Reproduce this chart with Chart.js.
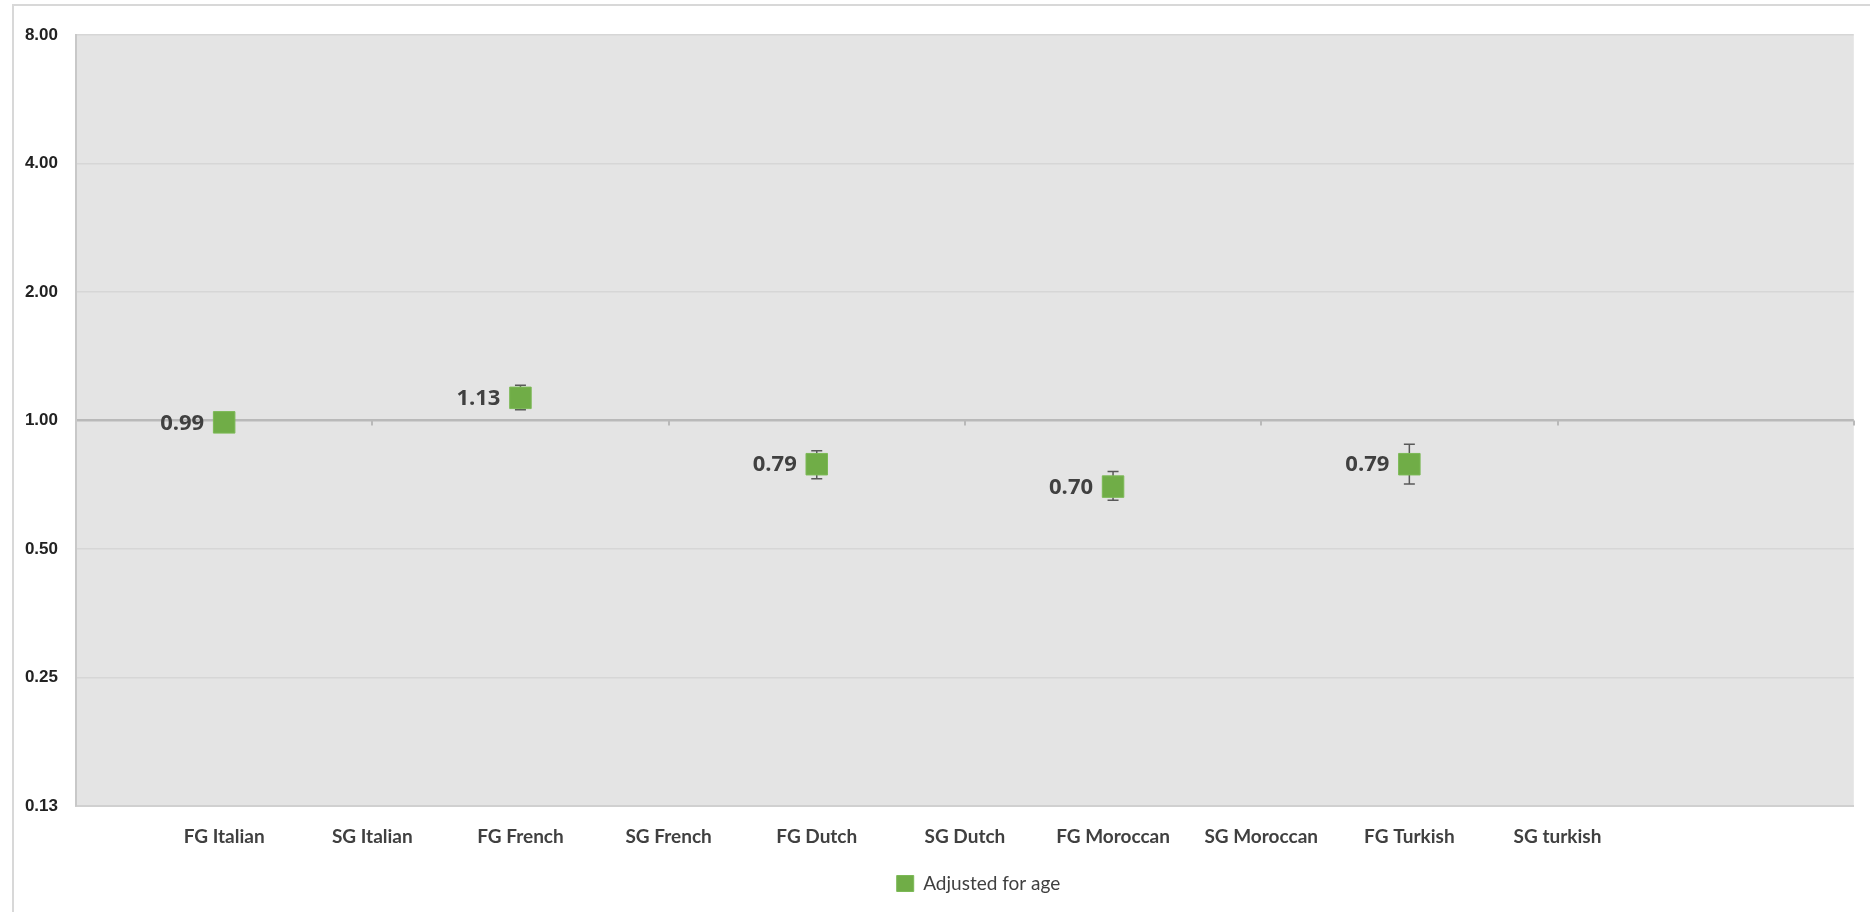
<!DOCTYPE html>
<html>
<head>
<meta charset="utf-8">
<script src="https://cdn.jsdelivr.net/npm/chart.js@4/dist/chart.umd.min.js"></script>
<style>
  html, body { margin: 0; padding: 0; background: #fff; }
  #wrap { width: 1870px; height: 912px; position: relative; }
</style>
</head>
<body>
<div id="wrap"><canvas id="or"></canvas></div>
<script>
// categories along the x axis
const categories = ['FG Italian', 'SG Italian', 'FG French', 'SG French', 'FG Dutch',
                    'SG Dutch', 'FG Moroccan', 'SG Moroccan', 'FG Turkish', 'SG turkish'];
// odds ratios (adjusted for age) with confidence limits, null = no estimate
const oddsRatio = [0.99, null, 1.13, null, 0.79, null, 0.70, null, 0.79, null];
const ciLower   = [0.97, null, 1.06, null, 0.73, null, 0.65, null, 0.71, null];
const ciUpper   = [1.01, null, 1.21, null, 0.85, null, 0.76, null, 0.88, null];
// log2 y axis
const yTicks = [0.125, 0.25, 0.5, 1, 2, 4, 8];
const yTickLabels = ['0.13', '0.25', '0.50', '1.00', '2.00', '4.00', '8.00'];

const points = [];
categories.forEach(function (c, i) {
	if (oddsRatio[i] !== null) {
		points.push({x: i + 1, y: oddsRatio[i], lo: ciLower[i], hi: ciUpper[i]});
	}
});

const frame = {
	id: 'frame',
	beforeDraw(chart) {
		const ctx = chart.ctx, a = chart.chartArea;
		ctx.save();
		ctx.strokeStyle = '#d8d8d8';
		ctx.lineWidth = 2;
		ctx.beginPath();
		ctx.moveTo(13, chart.height);
		ctx.lineTo(13, 5);
		ctx.lineTo(chart.width, 5);
		ctx.stroke();
		ctx.fillStyle = '#e4e4e4';
		ctx.fillRect(a.left, a.top, a.right - a.left, a.bottom - a.top);
		ctx.restore();
	},
	afterLayout(chart) {
		// legend sits a bit right of centre in the original
		chart.legend.left += 48;
		chart.legend.right += 48;
	}
};

// axis crossing at 1.00 with small tick marks, error bars behind the markers
const errorBars = {
	id: 'errorBars',
	beforeDatasetsDraw(chart) {
		const ctx = chart.ctx, xs = chart.scales.x, ys = chart.scales.y;
		const y1 = ys.getPixelForValue(1);
		ctx.save();
		ctx.strokeStyle = '#b9b9b9';
		ctx.lineWidth = 2;
		for (let v = 2; v <= xs.max; v += 2) {
			const px = Math.round(xs.getPixelForValue(v));
			ctx.beginPath();
			ctx.moveTo(px, y1);
			ctx.lineTo(px, y1 + 5);
			ctx.stroke();
		}
		ctx.strokeStyle = '#595959';
		ctx.lineWidth = 1.5;
		points.forEach(function (p) {
			const px = xs.getPixelForValue(p.x);
			const top = ys.getPixelForValue(p.hi);
			const bot = ys.getPixelForValue(p.lo);
			ctx.beginPath();
			ctx.moveTo(px, top); ctx.lineTo(px, bot);
			ctx.moveTo(px - 5.5, top); ctx.lineTo(px + 5.5, top);
			ctx.moveTo(px - 5.5, bot); ctx.lineTo(px + 5.5, bot);
			ctx.stroke();
		});
		ctx.restore();
	},
	afterDatasetsDraw(chart) {
		const ctx = chart.ctx;
		const meta = chart.getDatasetMeta(0);
		ctx.save();
		ctx.font = 'bold 22px "Open Sans"';
		ctx.fillStyle = '#404040';
		ctx.textAlign = 'right';
		ctx.textBaseline = 'middle';
		meta.data.forEach(function (el, i) {
			ctx.fillText(points[i].y.toFixed(2), el.x - 20, el.y + 1);
		});
		ctx.restore();
	}
};

new Chart(document.getElementById('or').getContext('2d'), {
	type: 'scatter',
	data: {
		datasets: [{
			label: 'Adjusted for age',
			data: points,
			backgroundColor: '#70ad47',
			borderColor: '#7cb956',
			borderWidth: 1,
			pointStyle: 'rect',
			pointRadius: 15.2,
			pointHoverRadius: 15.2,
			showLine: false
		}]
	},
	options: {
		responsive: true,
		maintainAspectRatio: false,
		animation: false,
		layout: {
			padding: {top: 35, right: 9, bottom: 9, left: 0}
		},
		plugins: {
			tooltip: {enabled: false},
			legend: {
				position: 'bottom',
				labels: {
					boxWidth: 17,
					boxHeight: 16,
					padding: 10,
					color: '#404040',
					font: {family: 'Lato', size: 19}
				}
			}
		},
		scales: {
			x: {
				type: 'linear',
				min: 0,
				max: 12,
				afterBuildTicks(axis) {
					axis.ticks = categories.map(function (c, i) { return {value: i + 1}; });
				},
				afterFit(axis) { axis.height = 58; },
				ticks: {
					autoSkip: false,
					maxRotation: 0,
					padding: 19,
					color: '#404040',
					font: {family: 'Lato', size: 19, weight: 'bold'},
					callback: function (v, i) { return categories[i]; }
				},
				grid: {display: false, drawTicks: false},
				border: {display: true, color: '#d0d0d0', width: 2}
			},
			y: {
				type: 'logarithmic',
				min: 0.125,
				max: 8,
				afterBuildTicks(axis) {
					axis.ticks = yTicks.map(function (v) { return {value: v}; });
				},
				afterFit(axis) { axis.width = 76; },
				ticks: {
					padding: 18,
					color: '#222222',
					font: {family: 'Liberation Sans', size: 17, weight: 'bold'},
					callback: function (v, i) { return yTickLabels[i]; }
				},
				grid: {
					drawTicks: false,
					color: function (c) { return c.tick && c.tick.value === 1 ? '#b9b9b9' : '#d6d6d6'; },
					lineWidth: function (c) { return c.tick && c.tick.value === 1 ? 2.5 : 1.5; }
				},
				border: {display: true, color: '#c8c8c8', width: 2}
			}
		}
	},
	plugins: [frame, errorBars]
});
</script>
</body>
</html>
